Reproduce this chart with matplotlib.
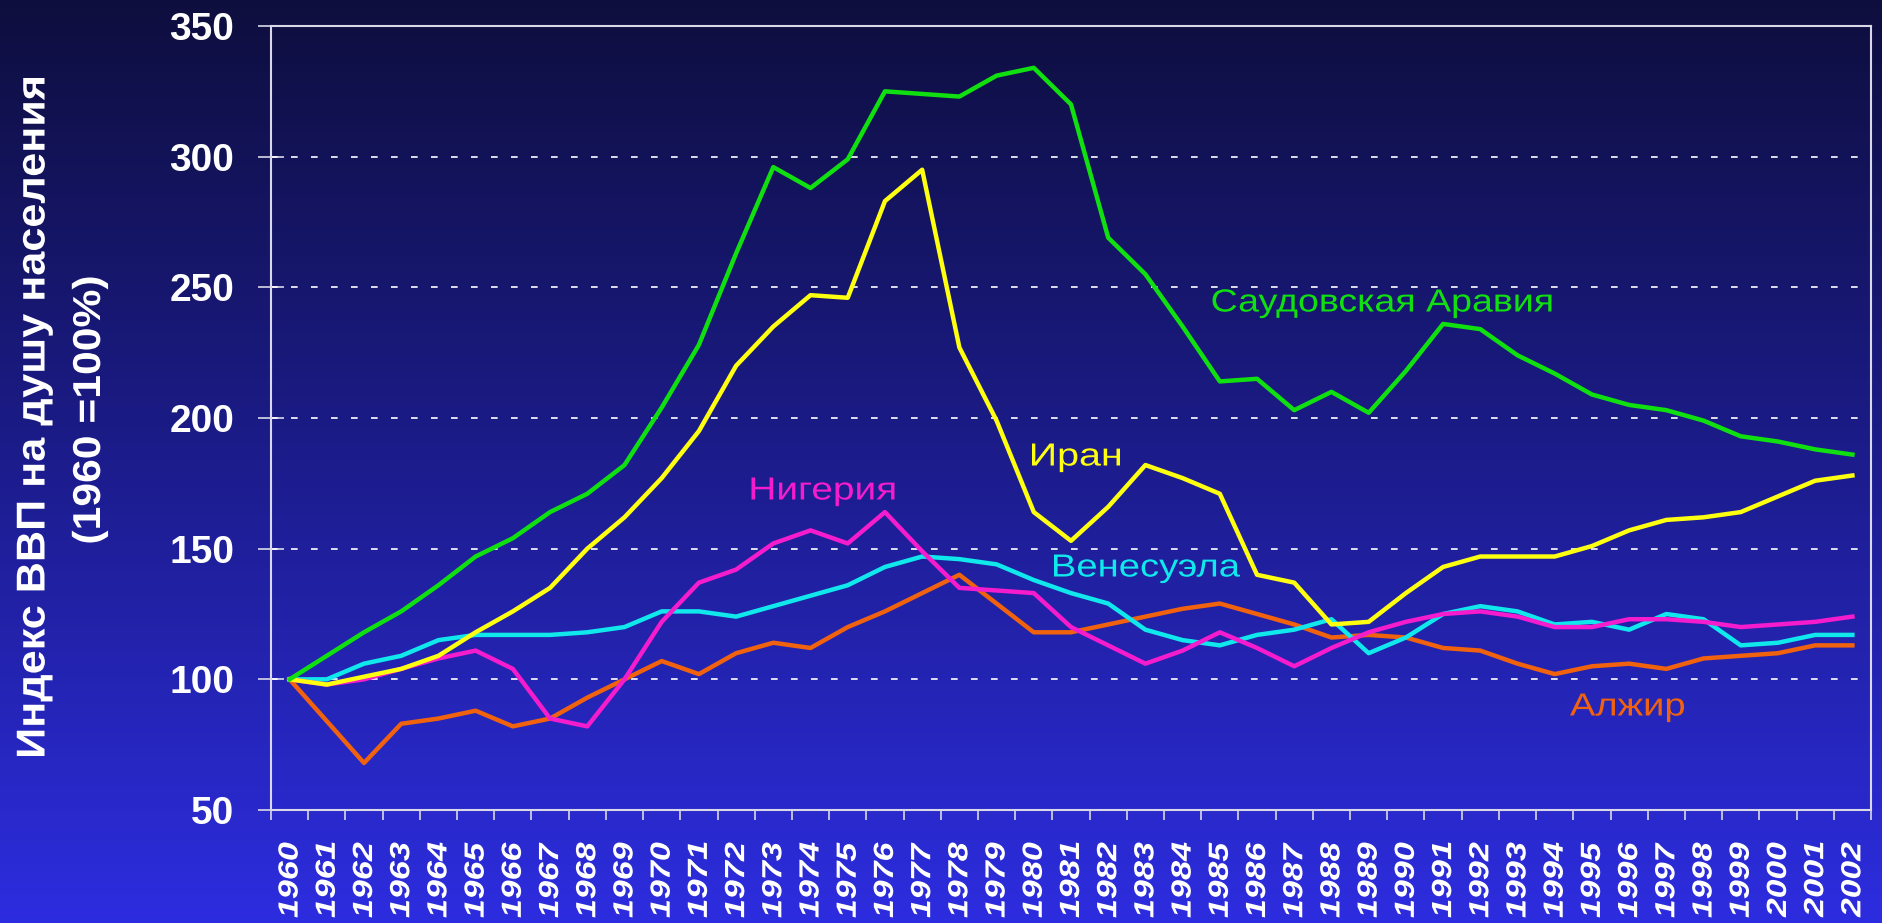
import numpy as np
import matplotlib
matplotlib.use("Agg")
import matplotlib.pyplot as plt
from matplotlib.colors import LinearSegmentedColormap
from matplotlib.textpath import TextPath
from matplotlib.patches import PathPatch
from matplotlib.font_manager import FontProperties
from matplotlib.transforms import Affine2D

# data: GDP per capita index, 1960 = 100
years = [str(y) for y in range(1960, 2003)]
saudi = [100, 109, 118, 126, 136, 147, 154, 164, 171, 182,
         204, 228, 263, 296, 288, 299, 325, 324, 323, 331,
         334, 320, 269, 255, 235, 214, 215, 203, 210, 202,
         218, 236, 234, 224, 217, 209, 205, 203, 199, 193,
         191, 188, 186]
iran = [100, 98, 101, 104, 109, 118, 126, 135, 150, 162,
        177, 195, 220, 235, 247, 246, 283, 295, 227, 199,
        164, 153, 166, 182, 177, 171, 140, 137, 121, 122,
        133, 143, 147, 147, 147, 151, 157, 161, 162, 164,
        170, 176, 178]
venezuela = [100, 100, 106, 109, 115, 117, 117, 117, 118, 120,
             126, 126, 124, 128, 132, 136, 143, 147, 146, 144,
             138, 133, 129, 119, 115, 113, 117, 119, 123, 110,
             116, 125, 128, 126, 121, 122, 119, 125, 123, 113,
             114, 117, 117]
nigeria = [100, 98, 100, 104, 108, 111, 104, 85, 82, 100,
           122, 137, 142, 152, 157, 152, 164, 149, 135, 134,
           133, 120, 113, 106, 111, 118, 112, 105, 112, 118,
           122, 125, 126, 124, 120, 120, 123, 123, 122, 120,
           121, 122, 124]
algeria = [100, 84, 68, 83, 85, 88, 82, 85, 93, 100,
           107, 102, 110, 114, 112, 120, 126, 133, 140, 129,
           118, 118, 121, 124, 127, 129, 125, 121, 116, 117,
           116, 112, 111, 106, 102, 105, 106, 104, 108, 109,
           110, 113, 113]
y_ticks = [50, 100, 150, 200, 250, 300, 350]

W, H = 1882, 923
fig = plt.figure(figsize=(W / 100, H / 100), dpi=100)


def path_text(s, cx, cy, length, cap, color, rot=0, weight="normal", style="normal"):
    # text drawn as a path so it can be stretched like the original slide font
    fp = FontProperties(family="Liberation Sans", weight=weight, style=style)
    tp = TextPath((0, 0), s, size=100, prop=fp)
    ext = tp.get_extents()
    sy = cap / 72.0
    sx = length / ext.width
    tr = (Affine2D().translate(-(ext.x0 + ext.width / 2), -36.0)
          .scale(sx, sy).rotate_deg(rot).translate(cx, H - cy))
    fig.add_artist(PathPatch(tp, transform=tr, facecolor=color, edgecolor="none", lw=0))


# background gradient, dark navy on top to bright blue at the bottom
bg = fig.add_axes([0, 0, 1, 1], zorder=0)
grad = np.linspace(0, 1, 256).reshape(-1, 1)
cmap = LinearSegmentedColormap.from_list("bg", ["#0e0e3e", "#1c1c8c", "#2d2de0"])
bg.imshow(grad, aspect="auto", cmap=cmap, extent=[0, 1, 0, 1], origin="upper")
bg.set_axis_off()

ax = fig.add_axes([271 / W, 1 - 810 / H, (1871 - 271) / W, (810 - 26) / H], zorder=1)
ax.set_facecolor("none")

x = np.arange(len(years))
lw = 3.2
ax.plot(x, algeria, color="#f0620e", lw=lw, zorder=3)
ax.plot(x, venezuela, color="#10e8ec", lw=lw, zorder=4)
ax.plot(x, nigeria, color="#f41ccc", lw=lw, zorder=5)
ax.plot(x, iran, color="#ffff10", lw=lw, zorder=6)
ax.plot(x, saudi, color="#10e010", lw=lw, zorder=7)

ax.set_xlim(-0.5, len(years) - 0.5)
ax.set_ylim(50, 350)

# y axis
ax.set_yticks(y_ticks)
ax.set_yticklabels([str(v) for v in y_ticks], fontsize=28, fontweight="bold",
                   color="white", family="Liberation Sans")
ax.tick_params(axis="y", direction="inout", length=19, width=1.2, color="#d8d8e8", pad=17)
for v in y_ticks[1:-1]:
    ax.axhline(v, color="white", lw=1.2, ls=(0, (4, 8)), zorder=2)

# x axis: ticks on category borders, labels drawn at centres below
ax.set_xticks(np.arange(-0.5, len(years), 1.0))
ax.set_xticklabels([])
ax.tick_params(axis="x", which="major", direction="out", length=7, width=1.2, color="#d8d8e8")

for s in ax.spines.values():
    s.set_color("#d8d8e8")
    s.set_linewidth(1.5)

for i, yr in enumerate(years):
    px = ax.transData.transform((i, 50))[0]
    path_text(yr, px - 2, 880, 75, 20, "white", rot=90, weight="bold", style="italic")

# y label, two lines in narrow bold font
path_text("Индекс ВВП на душу населения", 30, 417, 678, 29, "white", rot=90, weight="bold")
path_text("(1960 =100%)", 86, 410, 265, 28, "white", rot=90, weight="bold")

# series labels
path_text("Саудовская Аравия", 1382, 300, 339, 23, "#10e010")
path_text("Иран", 1076, 454, 88, 23, "#ffff10")
path_text("Нигерия", 823, 488, 143, 23, "#f41ccc")
path_text("Венесуэла", 1147, 565, 186, 23, "#10e8ec")
path_text("Алжир", 1627, 704, 114, 23, "#f0620e")

fig.savefig("out.png", dpi=100)
